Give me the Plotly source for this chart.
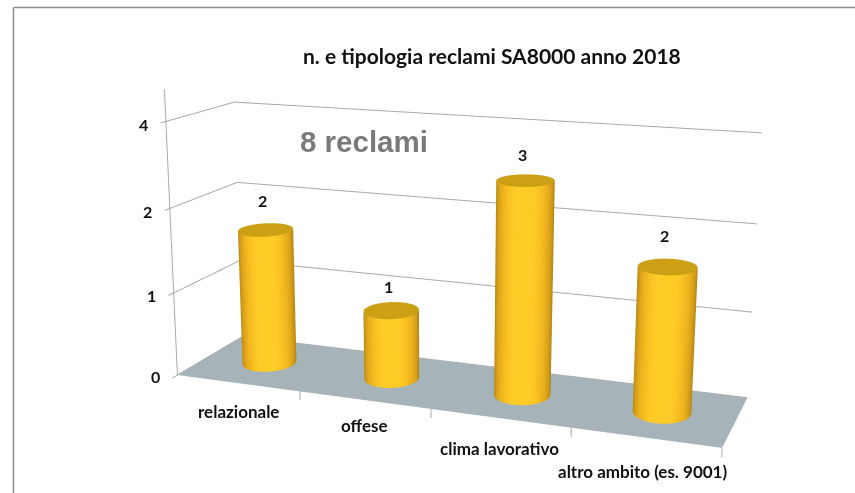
import numpy as np
import plotly.graph_objects as go

categories = ["relazionale", "offese", "clima lavorativo", "altro ambito (es. 9001)"]
values = [2, 1, 3, 2]
tick_labels = ["0", "1", "2", "4"]
tick_levels = [0, 1.22, 2.44, 3.66]

W, H = 855, 493
# The scene is larger than the window because plotly's field of view is fixed:
# a larger viewport gives the flatter perspective of the original chart.
FW, FH = 876, 1202
L, T = 1, 355
XR, YR, ZR = (-0.1, 4.1), (-0.15, 1.05), (-0.195, 4.195)
EYE = (1.6959, -4.6213, 1.2364)
CENTER = (-0.0703, 0.0176, 0.0006)
UP = (0.0043, -0.0013, 1)
ASPECT = (2.1, 0.6016, 1.1296)
SX = ASPECT[0] / (XR[1] - XR[0])
SY = ASPECT[1] / (YR[1] - YR[0])
XMID, YMID = (XR[0] + XR[1]) / 2, (YR[0] + YR[1]) / 2
RX, RY = 0.197, 0.22

def pxx(a):
    return (a + L) / FW

def pxy(b):
    return 1 - (b + T) / FH

fig = go.Figure()
flat = dict(ambient=1, diffuse=0, specular=0, fresnel=0)
GRID = "#a9a9a9"

def line(x, y, z):
    fig.add_trace(go.Scatter3d(x=x, y=y, z=z, mode="lines", line=dict(color=GRID, width=2),
                               hoverinfo="skip", showlegend=False))

fig.add_trace(go.Mesh3d(x=[0, 4, 4, 0], y=[0, 0, 1, 1], z=[0, 0, 0, 0], i=[0, 0], j=[1, 2], k=[2, 3],
                        color="#a6b4ba", lighting=flat, hoverinfo="skip"))
for l in tick_levels:
    line([0, 0, 4], [0, 1, 1], [l, l, l])
    line([0, 0], [0, -.07], [l, l])
line([0, 0], [0, 0], [0, 4.1])
for i in range(1, 5):
    line([i, i], [0, 0], [0, -.127])

th = np.linspace(0, 2 * np.pi, 145)
for i, v in enumerate(values):
    bx = i + .5
    # shade each cylinder by how directly its side faces the camera
    wx = (bx - XMID) * SX
    wy = (.5 - YMID) * SY
    vx, vy = EYE[0] - wx, EYE[1] - wy
    n = np.hypot(vx, vy)
    t, zz = np.meshgrid(th, [0, v])
    facing = np.clip((np.cos(t) * vx + np.sin(t) * vy) / n, 0, 1)
    fig.add_trace(go.Surface(x=bx + RX * np.cos(t), y=.5 + RY * np.sin(t), z=zz, surfacecolor=facing,
                             showscale=False, cmin=0, cmax=1,
                             colorscale=[[0, "#a07a10"], [.4, "#cf9a18"], [.7, "#eeb31e"], [.95, "#ffcb26"], [1, "#ffcb26"]],
                             lighting=flat, hoverinfo="skip"))
    r_, t2 = np.meshgrid([0, 1], th)
    fig.add_trace(go.Surface(x=bx + RX * r_ * np.cos(t2), y=.5 + RY * r_ * np.sin(t2), z=v + 0 * r_,
                             surfacecolor=0 * r_, showscale=False, cmin=0, cmax=1,
                             colorscale=[[0, "#cba014"], [1, "#cba014"]], lighting=flat, hoverinfo="skip"))

INK = "#111111"
tick_font = dict(family="Lato", size=16, color=INK, weight="bold")
cat_font = dict(family="Lato", size=17, color=INK, weight="bold")
ann = []
for l, s, dy in zip(tick_levels, tick_labels, [-1, -3, -3, -3]):
    ann.append(dict(x=0, y=0, z=l, text=s, showarrow=False, xshift=-22, yshift=dy, font=tick_font))
for i, (c, dx, dy) in enumerate(zip(categories, [1, 0, 0, -3], [-28, -25, -30, -34])):
    ann.append(dict(x=i + .5, y=0, z=0, text=c, showarrow=False, xshift=dx, yshift=dy, font=cat_font))
for i, (v, dy) in enumerate(zip(values, [29, 24, 26, 31])):
    ann.append(dict(x=i + .5, y=.5, z=v, text=str(v), showarrow=False, xshift=-3, yshift=dy, font=tick_font))

fig.update_layout(
    width=FW, height=FH, margin=dict(l=0, r=0, t=0, b=0), paper_bgcolor="white", showlegend=False,
    annotations=[
        dict(xref="paper", yref="paper", x=pxx(492), y=pxy(56), text="n. e tipologia reclami SA8000 anno 2018",
             showarrow=False, font=dict(family="Lato", size=21, color=INK, weight="bold")),
        dict(xref="paper", yref="paper", x=pxx(364), y=pxy(141), text="8 reclami", showarrow=False,
             font=dict(family="Liberation Sans", size=29.5, color="#7a7a7a", weight="bold")),
    ],
    shapes=[
        dict(type="line", xref="paper", yref="paper", x0=pxx(13.5), x1=pxx(860), y0=pxy(7.5), y1=pxy(7.5),
             line=dict(color="#8c8c8c", width=1.5)),
        dict(type="line", xref="paper", yref="paper", x0=pxx(13.5), x1=pxx(13.5), y0=pxy(7.5), y1=pxy(500),
             line=dict(color="#8c8c8c", width=1.5)),
    ],
    scene=dict(
        domain=dict(x=[0, 1], y=[0, 1]), aspectmode="manual",
        aspectratio=dict(x=ASPECT[0], y=ASPECT[1], z=ASPECT[2]),
        camera=dict(eye=dict(x=EYE[0], y=EYE[1], z=EYE[2]), center=dict(x=CENTER[0], y=CENTER[1], z=CENTER[2]),
                    up=dict(x=UP[0], y=UP[1], z=UP[2]), projection=dict(type="perspective")),
        annotations=ann,
        xaxis=dict(range=list(XR), visible=False), yaxis=dict(range=list(YR), visible=False),
        zaxis=dict(range=list(ZR), visible=False),
    ),
)
fig.write_html("out.html", config=dict(displayModeBar=False),
               post_script=f"document.body.style.margin='{-T}px 0 0 {-L}px';"
                           "document.documentElement.style.overflow='hidden';document.body.style.overflow='hidden';")
